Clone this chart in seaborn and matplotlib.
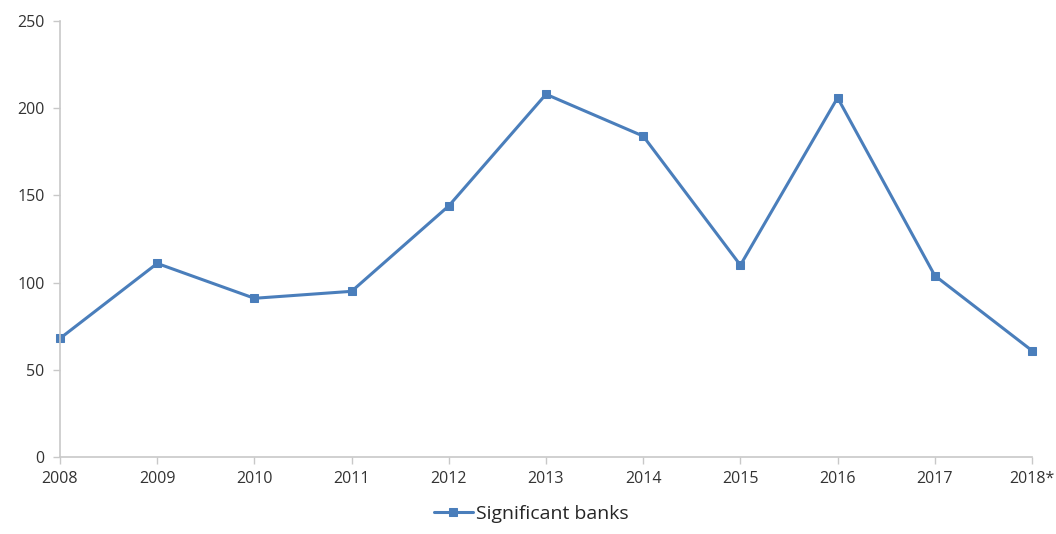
import pandas as pd
import matplotlib
matplotlib.use("Agg")
import matplotlib.pyplot as plt
import seaborn as sns

# data
years = ['2008', '2009', '2010', '2011', '2012', '2013', '2014', '2015', '2016', '2017', '2018*']
significant_banks = [68, 111, 91, 95, 144, 208, 184, 110, 206, 104, 61]

df = pd.DataFrame({'year': years, 'value': significant_banks})

sns.set_theme(style='white')
plt.rcParams['font.family'] = ['Open Sans', 'DejaVu Sans']

fig = plt.figure(figsize=(10.56, 5.34), dpi=100)
ax = fig.add_axes([60 / 1056, 1 - 457 / 534, (1032 - 60) / 1056, (457 - 21) / 534])

color = '#4a7ebb'
sns.lineplot(data=df, x='year', y='value', ax=ax, color=color, linewidth=2.2,
             marker='s', markersize=6, markeredgecolor=color, sort=False,
             label='Significant banks', clip_on=False)

ax.set_xlim(0, len(years) - 1)
ax.set_ylim(0, 250)
ax.set_yticks([0, 50, 100, 150, 200, 250])
ax.set_xlabel('')
ax.set_ylabel('')

for s in ['top', 'right']:
    ax.spines[s].set_visible(False)
for s in ['left', 'bottom']:
    ax.spines[s].set_color('#c8c8c8')
    ax.spines[s].set_linewidth(1.2)

ax.tick_params(axis='both', which='both', bottom=True, left=True, length=5, width=1,
               color='#c8c8c8', labelsize=11.5, labelcolor='#333333', direction='out')
ax.tick_params(axis='x', pad=5)
ax.tick_params(axis='y', pad=6)

ax.legend(loc='lower center', bbox_to_anchor=(0.485, -0.178), frameon=False,
          fontsize=14, handlelength=2.0, handletextpad=0.2, borderpad=0.1)

fig.savefig('out.png', dpi=100)
